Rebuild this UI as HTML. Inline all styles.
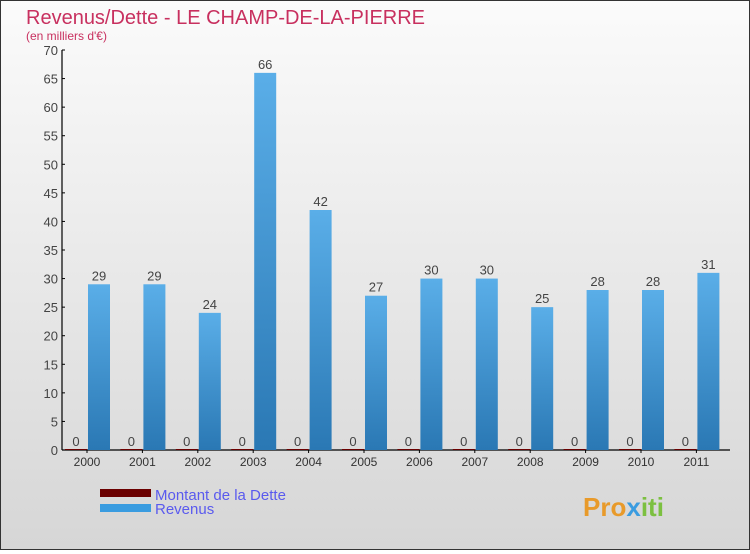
<!DOCTYPE html>
<html><head><meta charset="utf-8"><style>
html,body{margin:0;padding:0}
body{width:750px;height:550px;overflow:hidden;font-family:"Liberation Sans","DejaVu Sans",sans-serif}
#wrap{position:relative;width:748px;height:548px;border:1px solid #333;background:linear-gradient(#fbfbfb,#d6d6d6)}
</style></head><body>
<div id="wrap">
<svg id="chart" width="748" height="548" viewBox="1 1 748 548">
<text x="26" y="24" font-size="20" fill="#c8305f">Revenus/Dette - LE CHAMP-DE-LA-PIERRE</text>
<text x="26" y="40" font-size="12" fill="#c8305f">(en milliers d'€)</text>
<g id="axes"></g>
<g id="bars"></g>
<g>
<rect x="100" y="489" width="51" height="8" fill="#6b0000"/>
<text x="155" y="500" font-size="15" fill="#5a5aee">Montant de la Dette</text>
<rect x="100" y="504" width="51" height="8" fill="#3a9ce0"/>
<text x="155" y="514" font-size="15" fill="#5a5aee">Revenus</text>
</g>
<text x="583" y="516" font-size="26" font-weight="bold" fill="#e89a2a">Pro<tspan fill="#3a9ce0">x</tspan><tspan fill="#7cc040">iti</tspan></text>
</svg>
</div>
<script>
const years=["2000","2001","2002","2003","2004","2005","2006","2007","2008","2009","2010","2011"];
const dette=[0,0,0,0,0,0,0,0,0,0,0,0];
const revenus=[29,29,24,66,42,27,30,30,25,28,28,31];
const yTicks=[0,5,10,15,20,25,30,35,40,45,50,55,60,65,70];
const NS="http://www.w3.org/2000/svg";
const y0=450,yTop=50,yMax=70,x0=62,step=55.4,first=87,bw=22;
function yS(v){return y0-(v/yMax)*(y0-yTop);}
function xS(i){return first+i*step;}
function mk(tag,attrs,parent){const e=document.createElementNS(NS,tag);for(const k in attrs)e.setAttribute(k,attrs[k]);parent.appendChild(e);return e;}
const axes=document.getElementById('axes'),bars=document.getElementById('bars');
let a=mk('line',{x1:x0,y1:yTop,x2:x0,y2:y0,stroke:'#000','stroke-width':1.2},axes);


a=mk('line',{x1:x0,y1:y0,x2:730,y2:y0,stroke:'#000','stroke-width':1.2},axes);


yTicks.forEach(t=>{
 const y=yS(t);
 mk('line',{x1:x0,y1:y,x2:x0+3,y2:y,stroke:'#000'},axes);
 const tx=mk('text',{x:x0-4,y:y+5,'font-size':13,fill:'#444','text-anchor':'end'},axes);
 tx.textContent=t;
 
 
});
years.forEach((yr,i)=>{
 const x=xS(i);
 mk('line',{x1:x,y1:y0,x2:x,y2:y0+3,stroke:'#000'},axes);
 const tx=mk('text',{x:x,y:y0+16,'font-size':12,fill:'#333','text-anchor':'middle'},axes);
 tx.textContent=yr;
 
 
 const dh=Math.max(1,y0-yS(dette[i]));
 const d=mk('rect',{x:x-bw,y:y0-dh,width:bw,height:dh,fill:'#6b0000'},bars);
 
 
 const dl=mk('text',{x:x-bw/2,y:yS(dette[i])-4,'font-size':13,fill:'#444','text-anchor':'middle'},bars);
 dl.textContent=dette[i];
 
 
 const r=mk('rect',{x:x+1,y:yS(revenus[i]),width:bw,height:y0-yS(revenus[i]),fill:'url(#bg)'},bars);
 
 
 const rl=mk('text',{x:x+1+bw/2,y:yS(revenus[i])-4,'font-size':13,fill:'#444','text-anchor':'middle'},bars);
 rl.textContent=revenus[i];
 
 
});
const defs=mk('defs',{},document.getElementById('chart'));
const g=mk('linearGradient',{id:'bg',x1:0,y1:0,x2:0,y2:1},defs);
mk('stop',{offset:0,'stop-color':'#5aaee8'},g);
mk('stop',{offset:1,'stop-color':'#2a78b4'},g);
</script>
</body></html>
